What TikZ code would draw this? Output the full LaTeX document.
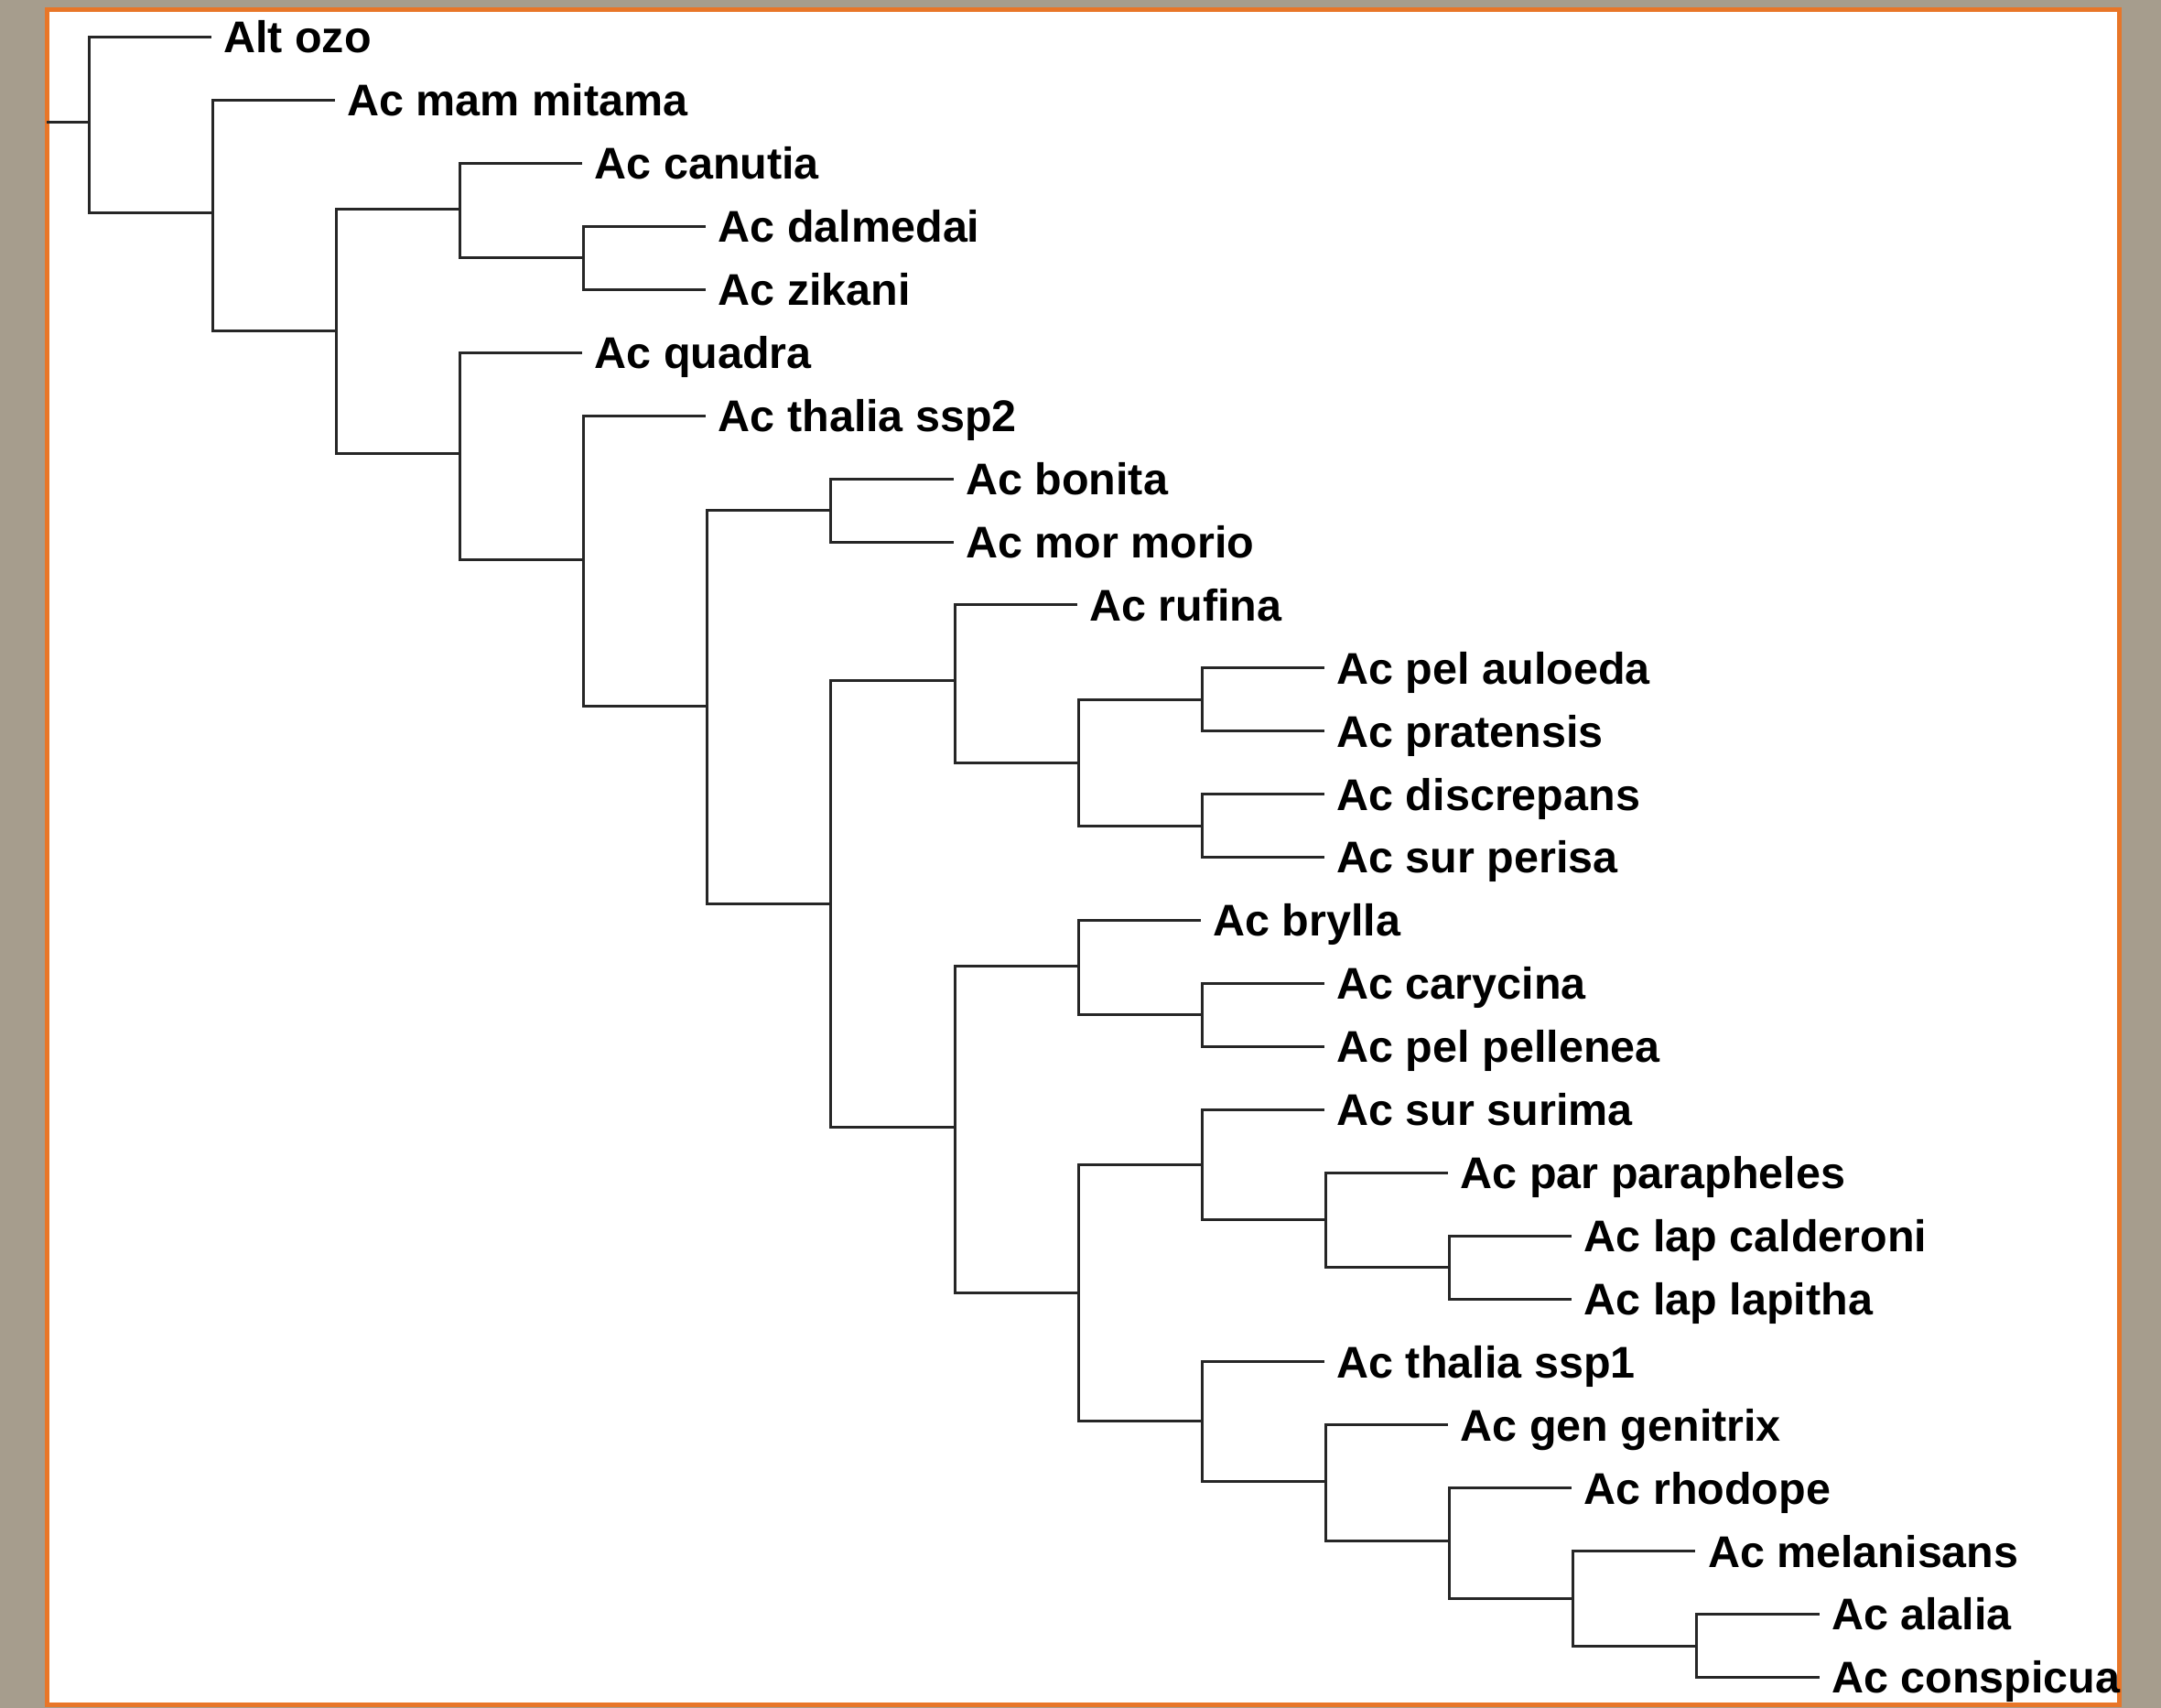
\documentclass[tikz,border=0pt]{standalone}
\usepackage{fontspec}
\setmainfont{Liberation Sans}
\definecolor{stone}{RGB}{166,157,141}
\definecolor{frameorange}{RGB}{232,118,40}
\newcommand\LX[1]{64.5+89.75*(#1)}
\newcommand\LY[1]{27+45.77*((#1)-1)}
\begin{document}
\begin{tikzpicture}[x=0.5pt,y=-0.5pt,
  branch/.style={draw=black!85,line width=1pt,line cap=rect},
  leaf/.style={anchor=west,inner xsep=5pt,inner ysep=0pt,outer sep=0pt,
    text height=11.5pt,text depth=0pt,font=\fontsize{16.1pt}{18pt}\selectfont\bfseries},
  panel/.style={draw=frameorange,line width=1.6pt,fill=white}]
\useasboundingbox (0,0) rectangle (1568,1239);
\fill[stone] (0,0) rectangle (1568,1239);
\draw[panel] (34,7) rectangle (1538,1237);
% leaves
\node[leaf] (n1)  at ({\LX{1}-2},{\LY{1}}) {Alt ozo};
\node[leaf] (n2)  at ({\LX{2}-2},{\LY{2}}) {Ac mam mitama};
\node[leaf] (n3)  at ({\LX{4}-2},{\LY{3}}) {Ac canutia};
\node[leaf] (n4)  at ({\LX{5}-2},{\LY{4}}) {Ac dalmedai};
\node[leaf] (n5)  at ({\LX{5}-2},{\LY{5}}) {Ac zikani};
\node[leaf] (n6)  at ({\LX{4}-2},{\LY{6}}) {Ac quadra};
\node[leaf] (n7)  at ({\LX{5}-2},{\LY{7}}) {Ac thalia ssp2};
\node[leaf] (n8)  at ({\LX{7}-2},{\LY{8}}) {Ac bonita};
\node[leaf] (n9)  at ({\LX{7}-2},{\LY{9}}) {Ac mor morio};
\node[leaf] (n10) at ({\LX{8}-2},{\LY{10}}) {Ac rufina};
\node[leaf] (n11) at ({\LX{10}-2},{\LY{11}}) {Ac pel auloeda};
\node[leaf] (n12) at ({\LX{10}-2},{\LY{12}}) {Ac pratensis};
\node[leaf] (n13) at ({\LX{10}-2},{\LY{13}}) {Ac discrepans};
\node[leaf] (n14) at ({\LX{10}-2},{\LY{14}}) {Ac sur perisa};
\node[leaf] (n15) at ({\LX{9}-2},{\LY{15}}) {Ac brylla};
\node[leaf] (n16) at ({\LX{10}-2},{\LY{16}}) {Ac carycina};
\node[leaf] (n17) at ({\LX{10}-2},{\LY{17}}) {Ac pel pellenea};
\node[leaf] (n18) at ({\LX{10}-2},{\LY{18}}) {Ac sur surima};
\node[leaf] (n19) at ({\LX{11}-2},{\LY{19}}) {Ac par parapheles};
\node[leaf] (n20) at ({\LX{12}-2},{\LY{20}}) {Ac lap calderoni};
\node[leaf] (n21) at ({\LX{12}-2},{\LY{21}}) {Ac lap lapitha};
\node[leaf] (n22) at ({\LX{10}-2},{\LY{22}}) {Ac thalia ssp1};
\node[leaf] (n23) at ({\LX{11}-2},{\LY{23}}) {Ac gen genitrix};
\node[leaf] (n24) at ({\LX{12}-2},{\LY{24}}) {Ac rhodope};
\node[leaf] (n25) at ({\LX{13}-2},{\LY{25}}) {Ac melanisans};
\node[leaf] (n26) at ({\LX{14}-2},{\LY{26}}) {Ac alalia};
\node[leaf] (n27) at ({\LX{14}-2},{\LY{27}}) {Ac conspicua};
% internal nodes
\coordinate (stub) at (35,{\LY{2.34}});
\coordinate (root) at ({\LX{0}},{\LY{2.34}});
\coordinate (A) at ({\LX{1}},{\LY{3.78}});
\coordinate (B) at ({\LX{2}},{\LY{5.65}});
\coordinate (C) at ({\LX{3}},{\LY{3.72}});
\coordinate (D) at ({\LX{3}},{\LY{7.60}});
\coordinate (E) at ({\LX{4}},{\LY{4.5}});
\coordinate (F) at ({\LX{4}},{\LY{9.28}});
\coordinate (G) at ({\LX{5}},{\LY{11.6}});
\coordinate (H) at ({\LX{6}},{\LY{8.5}});
\coordinate (I) at ({\LX{6}},{\LY{14.74}});
\coordinate (J) at ({\LX{7}},{\LY{11.2}});
\coordinate (K) at ({\LX{7}},{\LY{18.28}});
\coordinate (L) at ({\LX{8}},{\LY{12.5}});
\coordinate (M) at ({\LX{9}},{\LY{11.5}});
\coordinate (N) at ({\LX{9}},{\LY{13.5}});
\coordinate (O) at ({\LX{8}},{\LY{15.72}});
\coordinate (P) at ({\LX{8}},{\LY{20.90}});
\coordinate (Q) at ({\LX{9}},{\LY{16.5}});
\coordinate (R) at ({\LX{9}},{\LY{18.875}});
\coordinate (S) at ({\LX{9}},{\LY{22.94}});
\coordinate (T) at ({\LX{10}},{\LY{19.75}});
\coordinate (U) at ({\LX{11}},{\LY{20.5}});
\coordinate (V) at ({\LX{10}},{\LY{23.9}});
\coordinate (W) at ({\LX{11}},{\LY{24.84}});
\coordinate (X) at ({\LX{12}},{\LY{25.75}});
\coordinate (Y) at ({\LX{13}},{\LY{26.5}});
% branches
\draw[branch] (stub) -- (root);
\foreach \p/\c in {root/n1.west,root/A,A/n2.west,A/B,B/C,B/D,C/n3.west,C/E,
  E/n4.west,E/n5.west,D/n6.west,D/F,F/n7.west,F/G,G/H,G/I,H/n8.west,H/n9.west,
  I/J,I/K,J/n10.west,J/L,L/M,L/N,M/n11.west,M/n12.west,N/n13.west,N/n14.west,
  K/O,K/P,O/n15.west,O/Q,Q/n16.west,Q/n17.west,P/R,P/S,R/n18.west,R/T,
  T/n19.west,T/U,U/n20.west,U/n21.west,S/n22.west,S/V,V/n23.west,V/W,
  W/n24.west,W/X,X/n25.west,X/Y,Y/n26.west,Y/n27.west}
  \draw[branch] (\p) |- (\c);
\end{tikzpicture}
\end{document}
